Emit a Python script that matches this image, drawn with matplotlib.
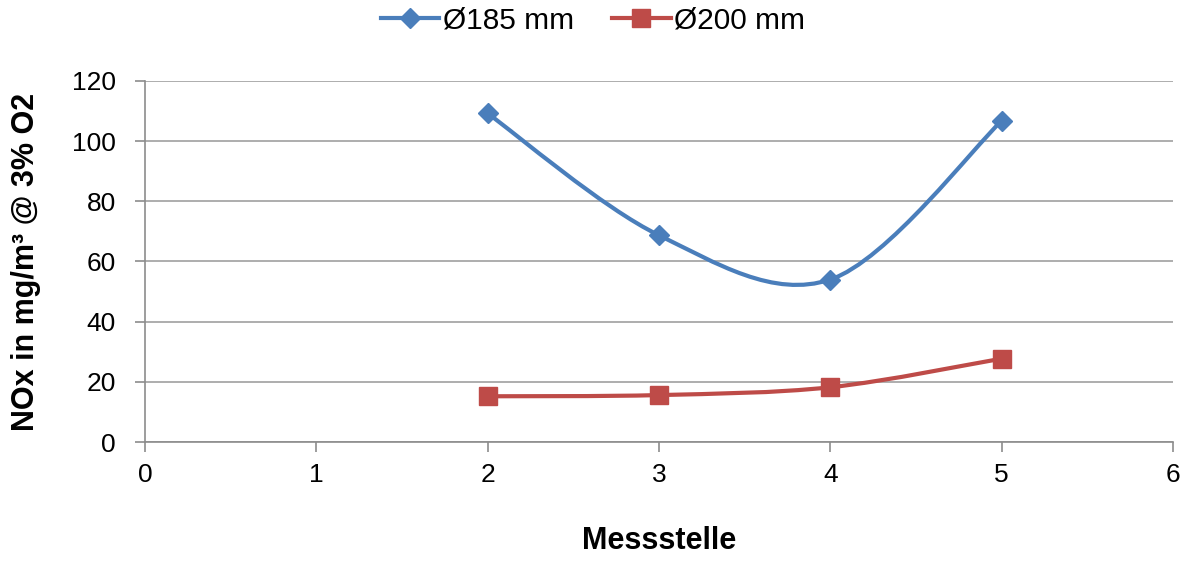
import numpy as np
import matplotlib.pyplot as plt
from matplotlib.path import Path
from matplotlib.patches import PathPatch

plt.rcParams['font.family'] = ['Liberation Sans', 'DejaVu Sans']

# Messstellen und NOx-Werte
messstelle = [2, 3, 4, 5]
nox_185 = [109.2, 68.7, 54.0, 106.7]
nox_200 = [15.2, 15.6, 18.2, 27.7]

labels = ['Ø185 mm', 'Ø200 mm']
colors = ['#4a7ebb', '#be4b48']


def smooth_path(x, y):
    # Bezier-Glaettung wie in Excel (Catmull-Rom, Spannung 1/6)
    pts = np.column_stack([x, y]).astype(float)
    ext = np.vstack([pts[0], pts, pts[-1]])
    verts = [pts[0]]
    codes = [Path.MOVETO]
    for i in range(len(pts) - 1):
        p0, p1, p2, p3 = ext[i], ext[i + 1], ext[i + 2], ext[i + 3]
        c1 = p1 + (p2 - p0) / 6
        c2 = p2 - (p3 - p1) / 6
        verts += [c1, c2, p2]
        codes += [Path.CURVE4] * 3
    return Path(verts, codes)


fig = plt.figure(figsize=(11.89, 5.62), dpi=100)
ax = fig.add_axes([0.122, 0.2135, 0.8645, 0.6425])

for y, col, lab, mk, ms in [(nox_185, colors[0], labels[0], 'D', 10),
                            (nox_200, colors[1], labels[1], 's', 13)]:
    ax.add_patch(PathPatch(smooth_path(messstelle, y), facecolor='none',
                           edgecolor=col, lw=3, zorder=3))
    ax.plot(messstelle, y, ls='none', marker=mk, ms=ms, color=col, zorder=4)
    ax.plot([], [], color=col, lw=3, marker=mk, ms=ms, label=lab)

ax.set_xlim(0, 6)
ax.set_ylim(0, 120)
ax.set_xticks(range(0, 7))
ax.set_yticks(range(0, 121, 20))
ax.grid(axis='y', color='#a0a0a0', lw=1.2)
ax.set_axisbelow(True)
for s in ['top', 'right']:
    ax.spines[s].set_visible(False)
for s in ['left', 'bottom']:
    ax.spines[s].set_color('#8c8c8c')
    ax.spines[s].set_linewidth(1.2)
ax.tick_params(axis='both', colors='#8c8c8c', length=7, width=1.2,
               labelsize=19, labelcolor='black')
ax.tick_params(axis='y', pad=14)
ax.tick_params(axis='x', pad=8)

ax.set_xlabel('Messstelle', fontsize=22, fontweight='bold', labelpad=28)
ax.set_ylabel('NOx in mg/m³ @ 3% O2', fontsize=22, fontweight='bold', labelpad=22)

fig.legend(loc='center', bbox_to_anchor=(0.499, 0.964), ncol=2, frameon=False,
           fontsize=21.5, handlelength=1.95, columnspacing=1.27, handletextpad=0.13)

plt.savefig('out.png', dpi=100)
